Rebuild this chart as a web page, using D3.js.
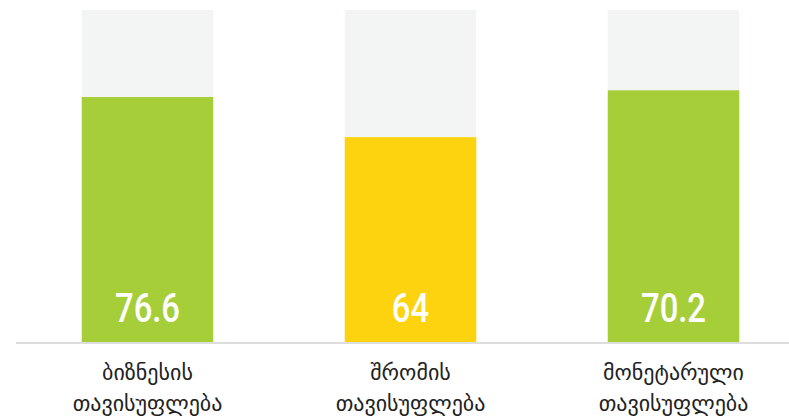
<!DOCTYPE html>
<html>
<head>
<meta charset="utf-8">
<script src="https://cdn.jsdelivr.net/npm/d3@7"></script>
<style>
  body { margin: 0; background: #fff; }
  svg { display: block; }
</style>
</head>
<body>
<script>
'use strict';

// categories, plotted bar heights and printed scores
var categories = [
  ['ბიზნესის', 'თავისუფლება'],
  ['შრომის', 'თავისუფლება'],
  ['მონეტარული', 'თავისუფლება']
];
var barValues = [73.8, 61.7, 75.8];
var scoreLabels = ['76.6', '64', '70.2'];
var barColors = ['#a6ce39', '#fdd20e', '#a6ce39'];
var maxValue = 100;

var width = 789, height = 416;
var baseY = 342, topY = 10;

var svg = d3.select('body').append('svg')
  .attr('width', width)
  .attr('height', height);

var x = d3.scaleBand()
  .domain(d3.range(categories.length))
  .range([16, 805])
  .paddingInner(0.5)
  .paddingOuter(0.25);

var y = d3.scaleLinear()
  .domain([0, maxValue])
  .range([baseY, topY]);

// full-height background bars
svg.selectAll('rect.bg')
  .data(barValues)
  .enter()
  .append('rect')
  .attr('class', 'bg')
  .attr('x', (d, i) => x(i))
  .attr('y', y(maxValue))
  .attr('width', x.bandwidth())
  .attr('height', baseY - y(maxValue))
  .attr('fill', '#f3f4f4');

svg.selectAll('rect.bar')
  .data(barValues)
  .enter()
  .append('rect')
  .attr('class', 'bar')
  .attr('x', (d, i) => x(i))
  .attr('y', d => y(d))
  .attr('width', x.bandwidth())
  .attr('height', d => baseY - y(d))
  .attr('fill', (d, i) => barColors[i]);

// baseline
svg.append('line')
  .attr('x1', 16).attr('x2', width)
  .attr('y1', baseY + 1).attr('y2', baseY + 1)
  .attr('stroke', '#dddddd')
  .attr('stroke-width', 2);

// condensed look: squeeze Roboto horizontally
svg.selectAll('text.score')
  .data(scoreLabels)
  .enter()
  .append('text')
  .attr('class', 'score')
  .attr('transform', (d, i) => 'translate(' + (x(i) + x.bandwidth() / 2) + ',' + (baseY - 20) + ') scale(0.8,1)')
  .attr('text-anchor', 'middle')
  .attr('fill', '#fff')
  .style('font-family', 'Roboto, sans-serif')
  .style('font-size', '41px')
  .style('font-weight', '500')
  .text(d => d);

var cat = svg.selectAll('text.cat')
  .data(categories)
  .enter()
  .append('text')
  .attr('class', 'cat')
  .attr('x', (d, i) => x(i) + x.bandwidth() / 2)
  .attr('y', 380)
  .attr('text-anchor', 'middle')
  .attr('fill', '#222')
  .style('font-family', '"DejaVu Sans", sans-serif')
  .style('font-size', '22px');

cat.selectAll('tspan')
  .data(d => d)
  .enter()
  .append('tspan')
  .attr('x', function() { return d3.select(this.parentNode).attr('x'); })
  .attr('dy', (d, i) => i === 0 ? 0 : 31)
  .text(d => d);
</script>
</body>
</html>
